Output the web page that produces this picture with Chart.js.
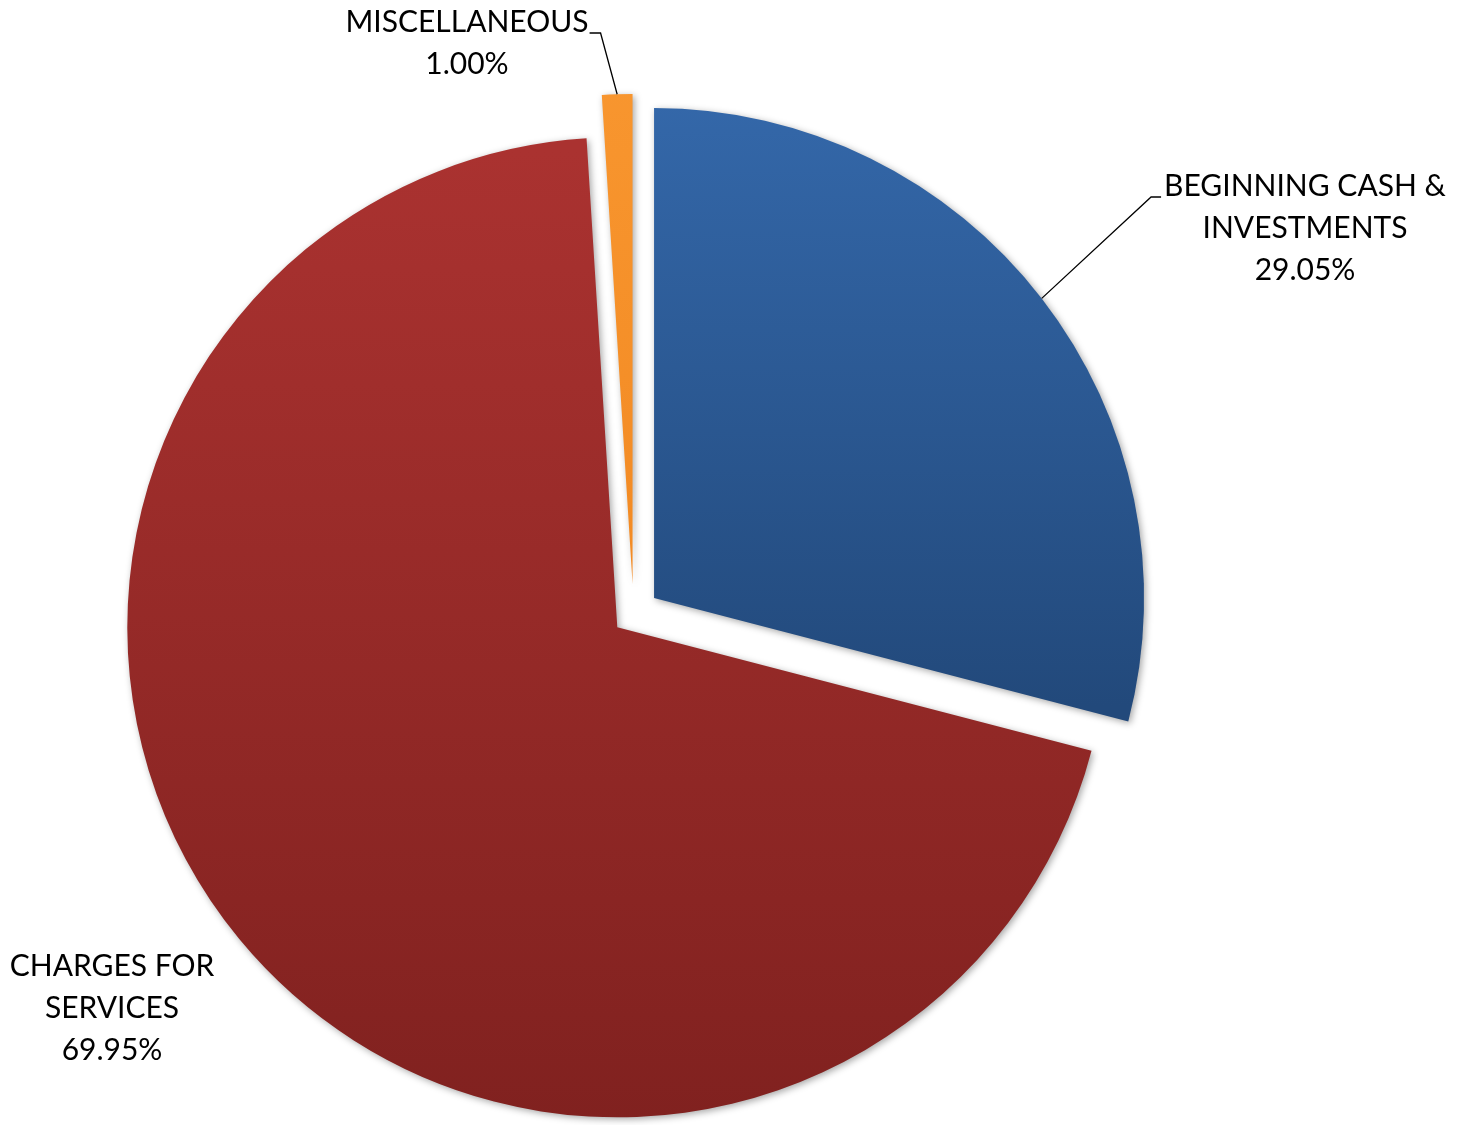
<!DOCTYPE html>
<html><head><meta charset="utf-8">
<script src="https://cdn.jsdelivr.net/npm/chart.js@4.4.1/dist/chart.umd.min.js"></script>
<style>html,body{margin:0;padding:0;background:#fff}canvas{display:block}</style>
</head><body>
<canvas id="c" width="1460" height="1125"></canvas>
<script>
// ---- data ----
const categories = ['BEGINNING CASH & INVESTMENTS', 'CHARGES FOR SERVICES', 'MISCELLANEOUS'];
const labelLines = [['BEGINNING CASH &', 'INVESTMENTS'], ['CHARGES FOR', 'SERVICES'], ['MISCELLANEOUS']];
const shares = [29.05, 69.95, 1.00];

// ---- style ----
const colorsTop = ['#3468AA', '#AA3230', '#F8962F'];
const colorsBottom = ['#22497B', '#80211F', '#F38B24'];
const explodePx = [26, 21, 30];
const labelAnchors = [
  {x: 1305, y: 186, elbow: 'left'},
  {x: 112, y: 966, elbow: null},
  {x: 467, y: 22, elbow: 'right'}
];
const FONT = '30px Lato, "Open Sans", sans-serif';
const LINE_H = 42;

function sliceYRange(el, off) {
  const half = (el.startAngle + el.endAngle) / 2;
  const cx = el.x + Math.cos(half) * off, cy = el.y + Math.sin(half) * off;
  const R = el.outerRadius;
  let ys = [cy, cy + Math.sin(el.startAngle) * R, cy + Math.sin(el.endAngle) * R];
  for (let k = -4; k <= 4; k++) {
    const a = Math.PI / 2 + k * Math.PI;
    if (a > el.startAngle && a < el.endAngle) ys.push(cy + Math.sin(a) * R);
  }
  return [Math.min(...ys), Math.max(...ys)];
}

const explodePlugin = {
  id: 'explode',
  afterUpdate(chart) {
    const meta = chart.getDatasetMeta(0);
    meta.data.forEach((el, i) => {
      if (el._wrapped) return;
      el._wrapped = true;
      const baseDraw = el.draw;
      el.draw = function (ctx, area) {
        const off = explodePx[i];
        const half = (this.startAngle + this.endAngle) / 2;
        const [y0, y1] = sliceYRange(this, off);
        const g = ctx.createLinearGradient(0, y0, 0, y1);
        g.addColorStop(0, colorsTop[i]);
        g.addColorStop(1, colorsBottom[i]);
        const orig = this.options;
        const o = Object.create(orig);
        o.backgroundColor = g;
        this.options = o;
        ctx.save();
        ctx.translate(Math.cos(half) * off, Math.sin(half) * off);
        ctx.shadowColor = 'rgba(0,0,0,0.35)';
        ctx.shadowBlur = 7;
        ctx.shadowOffsetX = 2;
        ctx.shadowOffsetY = 2;
        baseDraw.call(this, ctx, area);
        ctx.restore();
        this.options = orig;
      };
    });
  }
};

const labelPlugin = {
  id: 'sliceLabels',
  afterDraw(chart) {
    const ctx = chart.ctx;
    const meta = chart.getDatasetMeta(0);
    ctx.save();
    ctx.font = FONT;
    ctx.fillStyle = '#000';
    ctx.textAlign = 'center';
    ctx.textBaseline = 'middle';
    meta.data.forEach((el, i) => {
      const a = labelAnchors[i];
      const lines = labelLines[i].concat([shares[i].toFixed(2) + '%']);
      lines.forEach((t, k) => ctx.fillText(t, a.x, a.y + k * LINE_H));
      if (a.elbow) {
        const w = ctx.measureText(lines[0]).width;
        const half = (el.startAngle + el.endAngle) / 2;
        const r = el.outerRadius + explodePx[i];
        const ex = el.x + Math.cos(half) * r, ey = el.y + Math.sin(half) * r;
        const ly = a.y + 11;
        let p1, p2;
        if (a.elbow === 'left') { p1 = a.x - w / 2 - 3; p2 = p1 - 10; }
        else { p1 = a.x + w / 2 + 1; p2 = p1 + 11; }
        ctx.beginPath();
        ctx.strokeStyle = '#000';
        ctx.lineWidth = 1.3;
        ctx.moveTo(p1, ly);
        ctx.lineTo(p2, ly);
        ctx.lineTo(ex, ey);
        ctx.stroke();
      }
    });
    ctx.restore();
  }
};

new Chart(document.getElementById('c'), {
  type: 'pie',
  data: {
    labels: categories,
    datasets: [{
      data: shares,
      backgroundColor: colorsTop,
      borderWidth: 0,
      offset: 0,
      radius: 490
    }]
  },
  options: {
    responsive: false,
    animation: false,
    layout: {padding: {left: 0, right: 193, top: 103, bottom: 0}},
    plugins: {legend: {display: false}, tooltip: {enabled: false}},
    events: []
  },
  plugins: [explodePlugin, labelPlugin]
});
</script>
</body></html>
